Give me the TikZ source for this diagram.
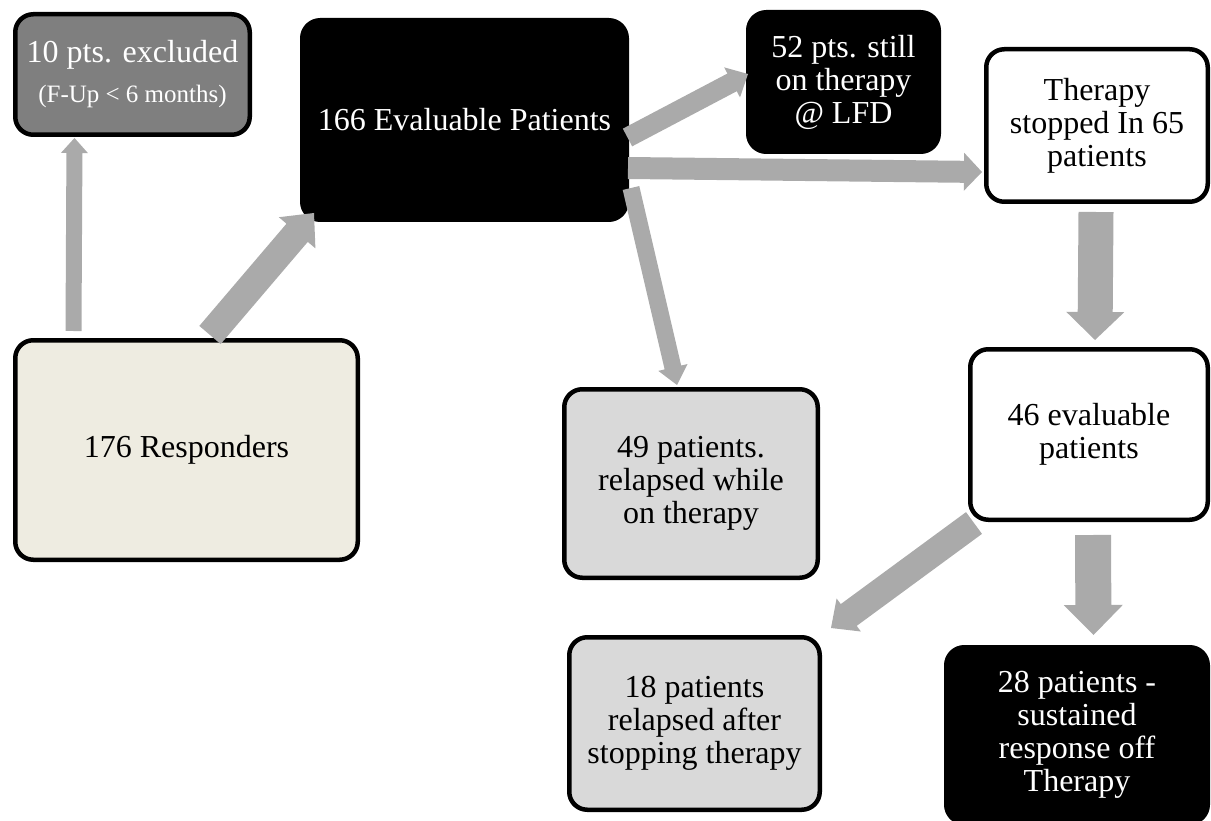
\documentclass[tikz,border=0pt]{standalone}
\usepackage{fontspec}
\setmainfont{Liberation Serif}
\usetikzlibrary{calc}
\definecolor{arrowgray}{RGB}{170,170,170}
\definecolor{beigefill}{RGB}{238,236,225}
\definecolor{lightfill}{RGB}{217,217,217}
\definecolor{midfill}{RGB}{127,127,127}
\newcommand{\boxfont}{\fontsize{32}{33}\selectfont}
\newcommand{\smallboxfont}{\fontsize{25}{27}\selectfont}
% #1 start, #2 tip, #3 half shaft width, #4 half head width, #5 head length
\newcommand{\blockarrow}[5]{%
  \coordinate (#1#2h) at ($(#2)!#5!(#1)$);
  \fill[arrowgray] ($(#1)!#3!90:(#2)$) -- ($(#1#2h)!#3!90:(#2)$) -- ($(#1#2h)!#4!90:(#2)$) -- (#2)
    -- ($(#1#2h)!#4!-90:(#2)$) -- ($(#1#2h)!#3!-90:(#2)$) -- ($(#1)!#3!-90:(#2)$) -- cycle;}
\tikzset{
  box/.style={draw=black, line width=4.5pt, rounded corners=18pt, inner sep=0pt,
    align=center, font=\boxfont},
}
\begin{document}
\begin{tikzpicture}[x=1pt,y=-1pt]
\useasboundingbox (0,0) rectangle (1211,821);
% nodes
\node[box, fill=midfill, text=white, minimum width=234.5pt, minimum height=120.5pt] (excl) at (132.5,74.5)
  {10 pts. excluded\\[7pt]{\smallboxfont (F-Up < 6 months)}};
\node[box, fill=black, text=white, minimum width=324.5pt, minimum height=199.5pt] (eval) at (464.5,120)
  {166 Evaluable Patients};
\node[box, fill=beigefill, minimum width=342.5pt, minimum height=219.5pt] (resp) at (186.5,450)
  {176 Responders};
\node[box, fill=black, text=white, minimum width=190.5pt, minimum height=139.5pt] (s52) at (843.5,82)
  {52 pts. still\\on therapy\\@ LFD};
\node[box, fill=white, minimum width=221.5pt, minimum height=152.5pt] (stop) at (1097,125.5)
  {Therapy\\stopped In 65\\patients};
\node[box, fill=white, minimum width=237.5pt, minimum height=170.5pt] (e46) at (1089,434.5)
  {46 evaluable\\patients};
\node[box, fill=lightfill, minimum width=253.5pt, minimum height=188.5pt] (r49) at (691,483.5)
  {49 patients.\\relapsed while\\on therapy};
\node[box, fill=lightfill, minimum width=250.5pt, minimum height=172.5pt] (r18) at (694.5,723.5)
  {18 patients\\relapsed after\\stopping therapy};
\node[box, fill=black, text=white, minimum width=261.5pt, minimum height=175.5pt] (s28) at (1077,735)
  {28 patients -\\sustained\\response off\\Therapy};
% arrow end points
\coordinate (aas) at (73.5,331);  \coordinate (aae) at (74.5,138);
\coordinate (abs) at (210,335);   \coordinate (abe) at (314,213);
\coordinate (acs) at (627.5,137.5); \coordinate (ace) at (748,74);
\coordinate (ads) at (628,168);   \coordinate (ade) at (982,172);
\coordinate (aes) at (631,188);   \coordinate (aee) at (677,385);
\coordinate (afs) at (1096,212);  \coordinate (afe) at (1095,340);
\coordinate (ags) at (974,523);   \coordinate (age) at (831,628);
\coordinate (ahs) at (1093,535);  \coordinate (ahe) at (1093.5,635);
% arrows
\blockarrow{aas}{aae}{8pt}{13.5pt}{15pt}
\blockarrow{abs}{abe}{14pt}{24pt}{26pt}
\blockarrow{acs}{ace}{10pt}{17pt}{18pt}
\blockarrow{ads}{ade}{11pt}{19pt}{18pt}
\blockarrow{aes}{aee}{8.5pt}{15pt}{18pt}
\blockarrow{afs}{afe}{17.5pt}{29pt}{28pt}
\blockarrow{ags}{age}{13.5pt}{20.5pt}{22pt}
\blockarrow{ahs}{ahe}{18pt}{29.5pt}{30pt}
\end{tikzpicture}
\end{document}
